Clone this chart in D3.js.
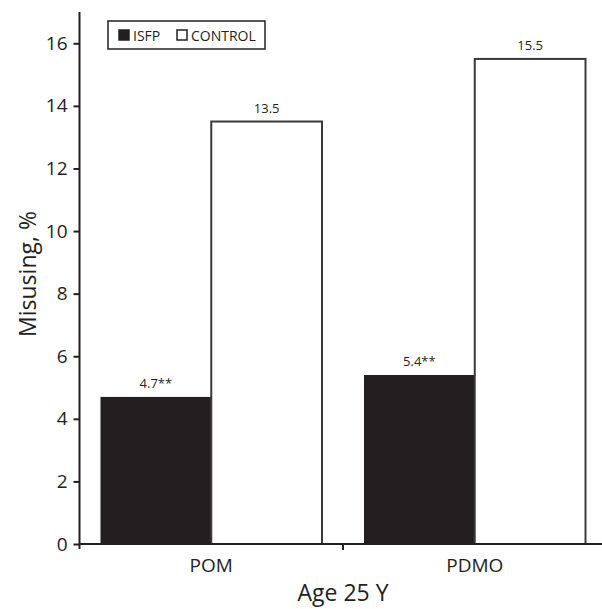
<!DOCTYPE html>
<html lang="en">
<head>
<meta charset="utf-8">
<title>Misusing at age 25</title>
<script src="https://d3js.org/d3.v7.min.js"></script>
<style>
body {
  margin: 0;
  background: #fff;
  font-family: "Open Sans", sans-serif;
  color: #231f20;
}
svg text { fill: #231f20; }
.axis path, .axis line { stroke: #231f20; stroke-width: 2; }
</style>
</head>
<body>
<svg width="602" height="609"></svg>
<script>

var categories = ["POM", "PDMO"];
var groups = ["ISFP", "CONTROL"];
var isfp = [4.7, 5.4];
var control = [13.5, 15.5];
var isfpLabels = ["4.7**", "5.4**"];
var controlLabels = ["13.5", "15.5"];
var yTicks = [0, 2, 4, 6, 8, 10, 12, 14, 16];

var rows = categories.map(function(c, i) {
  return {cat: c, values: [
    {key: "ISFP", value: isfp[i], label: isfpLabels[i]},
    {key: "CONTROL", value: control[i], label: controlLabels[i]}
  ]};
});

var svg = d3.select("svg");

var x0 = d3.scaleBand()
    .domain(categories)
    .range([79.5, 606.5]);

var x1 = d3.scaleBand()
    .domain(groups)
    .range([21, x0.bandwidth() - 21]);

var y = d3.scaleLinear()
    .domain([0, 17])
    .range([544, 12]);

var fill = d3.scaleOrdinal().domain(groups).range(["#231f20", "#ffffff"]);

// bars
var cat = svg.append("g").selectAll("g")
  .data(rows)
  .enter().append("g")
    .attr("transform", function(d) { return "translate(" + x0(d.cat) + ",0)"; });

cat.selectAll("rect")
  .data(function(d) { return d.values; })
  .enter().append("rect")
    .attr("x", function(d) { return x1(d.key); })
    .attr("y", function(d) { return y(d.value); })
    .attr("width", x1.bandwidth())
    .attr("height", function(d) { return y(0) - y(d.value); })
    .style("fill", function(d) { return fill(d.key); })
    .style("stroke", function(d) { return d.key == "ISFP" ? "none" : "#3a3a3a"; })
    .style("stroke-width", 2);

cat.selectAll("text")
  .data(function(d) { return d.values; })
  .enter().append("text")
    .attr("x", function(d) { return x1(d.key) + x1.bandwidth() / 2; })
    .attr("y", function(d) { return y(d.value) - 9; })
    .attr("text-anchor", "middle")
    .style("font-size", "13px")
    .text(function(d) { return d.label; });

// y axis
var yAxis = svg.append("g")
    .attr("class", "axis")
    .attr("transform", "translate(79.5,0)")
    .call(d3.axisLeft(y).tickValues(yTicks).tickSize(6).tickPadding(6).tickSizeOuter(0));
yAxis.select(".domain").attr("d", "M0," + (y(0) + 5) + "V" + y(17));
yAxis.selectAll("text").style("font-size", "19px").style("font-family", "'Open Sans', sans-serif");

// x axis with ticks between the categories
var xAxis = svg.append("g")
    .attr("class", "axis")
    .attr("transform", "translate(0," + y(0) + ")");
xAxis.append("path")
    .attr("class", "domain")
    .attr("d", "M" + x0.range()[0] + ",0H" + x0.range()[1]);
xAxis.selectAll("line.tick")
  .data(categories.slice(1))
  .enter().append("line")
    .attr("class", "tick")
    .attr("x1", function(d) { return x0(d); })
    .attr("x2", function(d) { return x0(d); })
    .attr("y1", 0)
    .attr("y2", 6);
xAxis.selectAll("text")
  .data(categories)
  .enter().append("text")
    .attr("x", function(d) { return x0(d) + x0.bandwidth() / 2; })
    .attr("y", 28)
    .attr("text-anchor", "middle")
    .style("font-size", "19px")
    .text(function(d) { return d; });

// axis titles
svg.append("text")
    .attr("x", (x0.range()[0] + x0.range()[1]) / 2)
    .attr("y", 601)
    .attr("text-anchor", "middle")
    .style("font-size", "23px")
    .text("Age 25 Y");

svg.append("text")
    .attr("transform", "translate(36," + 274 + ") rotate(-90)")
    .attr("text-anchor", "middle")
    .style("font-size", "23px")
    .text("Misusing, %");

// legend
var legend = svg.append("g").attr("transform", "translate(108,21)");
legend.append("rect")
    .attr("width", 157).attr("height", 28)
    .style("fill", "#fff").style("stroke", "#231f20").style("stroke-width", 1.5);

var legendX = [11, 69];
var item = legend.selectAll("g.item")
  .data(groups)
  .enter().append("g")
    .attr("class", "item")
    .attr("transform", function(d, i) { return "translate(" + legendX[i] + ",9)"; });
item.append("rect")
    .attr("width", 10).attr("height", 10)
    .style("fill", function(d) { return fill(d); })
    .style("stroke", "#231f20").style("stroke-width", 1.5);
item.append("text")
    .attr("x", 14)
    .attr("y", 10.5)
    .style("font-size", "14px")
    .text(function(d) { return d; });

</script>
</body>
</html>
